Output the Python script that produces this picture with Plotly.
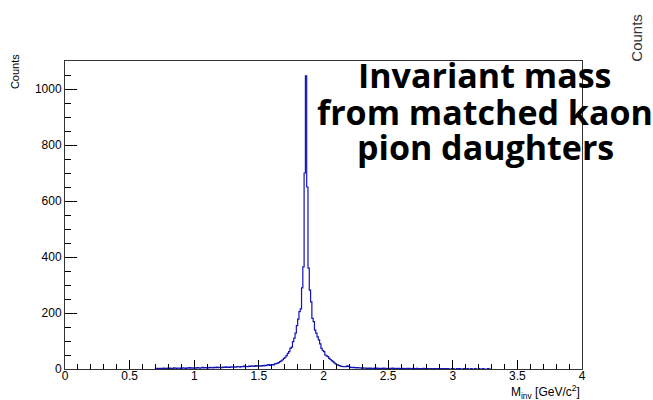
import numpy as np
import plotly.graph_objects as go

# Histogram: bins of width 0.01 GeV/c^2 starting at 0.70
bin_start = 0.70
bin_width = 0.01
counts = [
    1, 2, 1, 2, 2, 1, 3, 2, 2, 3,          # 0.70
    2, 3, 2, 2, 4, 3, 2, 3, 3, 2,          # 0.80
    3, 4, 3, 2, 4, 3, 5, 3, 4, 3,          # 0.90
    4, 3, 5, 4, 3, 4, 6, 4, 5, 4,          # 1.00
    5, 4, 6, 5, 4, 6, 5, 7, 5, 6,          # 1.10
    6, 5, 7, 6, 8, 6, 7, 6, 8, 7,          # 1.20
    7, 8, 7, 9, 8, 7, 9, 8, 10, 8,         # 1.30
    9, 8, 10, 9, 11, 10, 9, 12, 10, 11,    # 1.40
    11, 10, 12, 11, 13, 12, 14, 16, 13, 15,  # 1.50
    16, 15, 18, 19, 21, 23, 26, 29, 33, 38,  # 1.60
    42, 48, 56, 62, 74, 78, 98, 110, 128, 155,  # 1.70
    178, 205, 215, 290, 365, 700, 1047, 650, 360, 282,  # 1.80
    240, 181, 169, 139, 128, 115, 104, 90, 74, 66,  # 1.90
    62, 50, 47, 44, 38, 34, 30, 26, 22, 18,  # 2.00
    16, 14, 12, 10, 9, 8, 9, 8, 11, 9,     # 2.10
    7, 6, 5, 6, 5, 4, 5, 4, 4, 3,          # 2.20
    4, 3, 3, 2, 3, 2, 3, 2, 2, 3,          # 2.30
    2, 3, 2, 2, 1, 2, 3, 2, 2, 1,          # 2.40
    2, 1, 2, 3, 1, 2, 1, 2, 2, 1,          # 2.50
    1, 2, 1, 1, 2, 1, 2, 1, 1, 2,          # 2.60
    1, 1, 2, 1, 1, 0, 1, 2, 1, 1,          # 2.70
    1, 0, 1, 1, 0, 1, 1, 0, 1, 1,          # 2.80
    0, 1, 1, 0, 1, 0, 1, 0, 0, 1,          # 2.90
    1, 0, 0, 1, 0, 1, 0, 0, 1, 0,          # 3.00
    0, 1, 0, 0, 1, 0, 0, 1, 0, 0,          # 3.10
    1, 0, 0, 1, 0, 0, 0, 1, 0, 0,          # 3.20
]

x_ticks = [0, 0.5, 1, 1.5, 2, 2.5, 3, 3.5, 4]
x_ticklabels = ["0", "0.5", "1", "1.5", "2", "2.5", "3", "3.5", "4"]
y_ticks = [0, 200, 400, 600, 800, 1000]

title_lines = ["Invariant mass", "from matched kaon", "pion daughters"]

n = len(counts)
edges = bin_start + bin_width * np.arange(n + 1)
xs = np.concatenate([[edges[0]], edges])
ys = np.concatenate([[0], counts, [0]])

fig = go.Figure()
fig.add_trace(go.Scatter(
    x=xs, y=ys, mode="lines", line=dict(color="#1414b4", width=1.2, shape="hv"),
    hoverinfo="skip", showlegend=False,
))

axis_font = dict(family="Liberation Sans, Arial, sans-serif", size=12, color="#000000")

fig.update_layout(
    width=653, height=400,
    margin=dict(l=65, r=71, t=61, b=31),
    paper_bgcolor="white", plot_bgcolor="white",
    showlegend=False,
    xaxis=dict(
        range=[0, 4], tickvals=x_ticks, ticktext=x_ticklabels,
        ticks="inside", ticklen=9, tickwidth=1, tickcolor="#000",
        ticklabelstandoff=-4,
        minor=dict(dtick=0.1, ticks="inside", ticklen=5, tickcolor="#000", showgrid=False),
        showline=True, linecolor="#333", linewidth=1, mirror=True,
        showgrid=False, zeroline=False, tickfont=axis_font,
    ),
    yaxis=dict(
        range=[0, 1100], tickvals=y_ticks,
        ticks="inside", ticklen=12, tickwidth=1, tickcolor="#000",
        minor=dict(dtick=50, ticks="inside", ticklen=6, tickcolor="#000", showgrid=False),
        showline=True, linecolor="#333", linewidth=1, mirror=True,
        showgrid=False, zeroline=False, tickfont=axis_font,
    ),
)

# axis titles (ROOT style: at the ends of the axes)
fig.add_annotation(
    text="M<sub>inv</sub> [GeV/c<sup>2</sup>]", xref="paper", yref="paper",
    x=1.0, y=-0.04, xanchor="right", yanchor="top", showarrow=False,
    font=dict(family="Liberation Sans, Arial, sans-serif", size=12, color="#000"),
)
fig.add_annotation(
    text="Counts", xref="paper", yref="paper",
    x=-0.097, y=1.03, xanchor="center", yanchor="top", textangle=-90, showarrow=False,
    font=dict(family="Liberation Sans, Arial, sans-serif", size=11, color="#000"),
)
# stray label at top right
fig.add_annotation(
    text="Counts", xref="paper", yref="paper",
    x=1.106, y=1.075, xanchor="center", yanchor="middle", textangle=-90, showarrow=False,
    font=dict(family="Liberation Sans, Arial, sans-serif", size=15, color="#333"),
)
# big title, one annotation per line for tight line spacing
for line, ypos in zip(title_lines, [0.953, 0.836, 0.72]):
    fig.add_annotation(
        text=line, xref="paper", yref="paper",
        x=0.813, y=ypos, xanchor="center", yanchor="middle", showarrow=False,
        font=dict(family="Open Sans, sans-serif", size=34, color="#000", weight=700),
    )

fig.write_html("out.html")
